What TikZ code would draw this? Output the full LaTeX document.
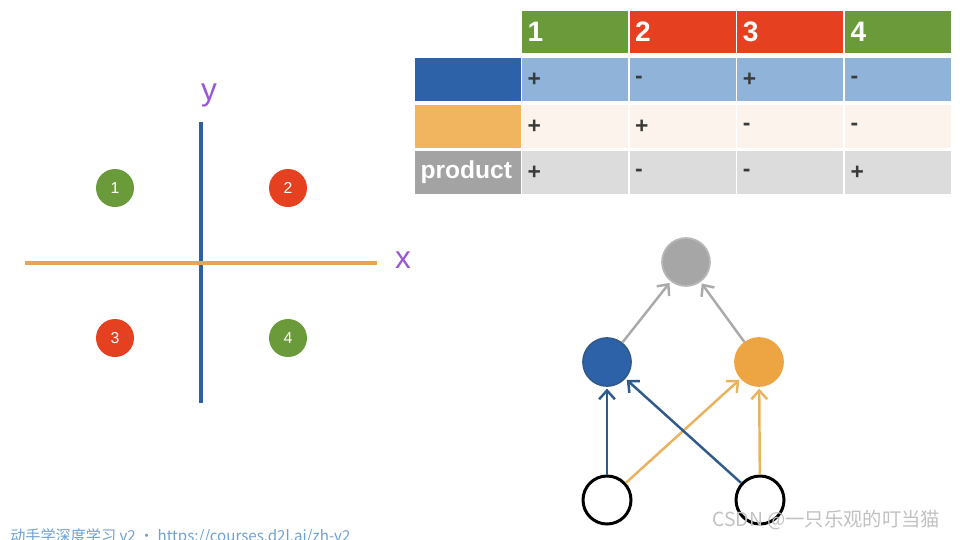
\documentclass[tikz,border=0pt]{standalone}
\usepackage{fontspec}
\setmainfont{Liberation Sans}
\newfontfamily\cjk{Noto Sans CJK SC}
\usetikzlibrary{arrows.meta}
\tikzset{>={Straight Barb[length=5pt,width=9pt]}}

\definecolor{hgreen}{HTML}{6A9A3A}
\definecolor{hred}{HTML}{E5401F}
\definecolor{rowblue}{HTML}{2E62A8}
\definecolor{roworange}{HTML}{F0B55E}
\definecolor{rowgray}{HTML}{A3A3A3}
\definecolor{cellblue}{HTML}{8FB3D9}
\definecolor{cellorange}{HTML}{FCF4EC}
\definecolor{cellgray}{HTML}{DCDCDC}
\definecolor{cellink}{HTML}{3A3A3A}
\definecolor{axisblue}{HTML}{2F5F9E}
\definecolor{axisorange}{HTML}{E8A550}
\definecolor{penpurple}{HTML}{9B55D8}
\definecolor{nodegray}{HTML}{A6A6A6}
\definecolor{nodeblue}{HTML}{2E62A8}
\definecolor{nodeorange}{HTML}{EDA443}
\definecolor{arrblue}{HTML}{2E5A8C}
\definecolor{arrorange}{HTML}{E9B25E}
\definecolor{arrgray}{HTML}{AAAAAA}
\definecolor{courseblue}{HTML}{6FA0D0}

\begin{document}
\begin{tikzpicture}[x=0.02cm, y=-0.02cm,
  tbox/.style={anchor=north west, minimum width=2.12cm, minimum height=0.86cm,
    text width=1.9cm, align=left, inner sep=0pt, outer sep=0pt},
  headbox/.style={tbox, minimum height=0.84cm, text=white, font=\bfseries\fontsize{16}{16}\selectfont},
  labbox/.style={tbox, text=white, font=\bfseries\fontsize{14}{14}\selectfont},
  cellbox/.style={tbox, text=cellink, font=\bfseries\fontsize{13}{13}\selectfont},
  quad/.style={circle, minimum size=0.76cm, inner sep=0pt, text=white, font=\fontsize{9}{9}\selectfont},
  unit/.style={circle, minimum size=0.96cm, inner sep=0pt, line width=1pt},
  link/.style={->, line width=1.4pt, shorten >=1pt}]
\useasboundingbox (0,0) rectangle (960,539);

% table
\foreach \c/\f in {1/hgreen, 2/hred, 3/hred, 4/hgreen}
  \node[headbox, fill=\f] (h\c) at ({522+(\c-1)*107.7}, 11) {\c};
\node[labbox, fill=rowblue] (lab1) at (415,58) {};
\node[labbox, fill=roworange] (lab2) at (415,105) {};
\node[labbox, fill=rowgray] (lab3) at (415,151) {product};
\foreach \r/\y/\f/\s in {1/58/cellblue/{+,-,+,-}, 2/105/cellorange/{+,+,-,-}, 3/151/cellgray/{+,-,-,+}}
  \foreach \v [count=\c] in \s
    \node[cellbox, fill=\f] (c\r\c) at ({522+(\c-1)*107.7}, \y) {\raisebox{-2pt}{\v}};

% axes
\draw[axisblue, line width=2.3pt] (201,122) -- (201,403);
\draw[axisorange, line width=2.3pt] (25,263) -- (377,263);
\node[text=penpurple, font=\fontsize{18}{18}\selectfont] (ylab) at (209,95) {y};
\node[text=penpurple, font=\fontsize{18}{18}\selectfont] (xlab) at (403,260) {x};
\node[quad, fill=hgreen] (q1) at (115,188) {1};
\node[quad, fill=hred] (q2) at (288,188) {2};
\node[quad, fill=hred] (q3) at (115,338) {3};
\node[quad, fill=hgreen] (q4) at (288,338) {4};

% network
\node[unit, fill=nodegray, draw=nodegray!80] (out) at (686,262) {};
\node[unit, fill=nodeblue, draw=arrblue] (hb) at (607,362) {};
\node[unit, fill=nodeorange, draw=nodeorange] (ho) at (759,362) {};
\node[unit, draw=black, line width=1.7pt] (in1) at (607,500) {};
\node[unit, draw=black, line width=1.7pt] (in2) at (760,500) {};
\draw[link, arrgray] (hb) -- (out);
\draw[link, arrgray] (ho) -- (out);
\draw[link, arrorange] (in1) -- (ho);
\draw[link, arrblue] (in2) -- (hb);
\draw[link, arrblue] (in1) -- (hb);
\draw[link, arrorange] (in2) -- (ho);

\node[anchor=west, inner sep=0pt, text=nodegray!70, font=\cjk\fontsize{11}{11}\selectfont] (mark) at (712,520) {CSDN @一只乐观的叮当猫};
\node[anchor=north west, inner sep=0pt, text=courseblue, font=\cjk\fontsize{8.6}{8.6}\selectfont] (course) at (10,528) {动手学深度学习 v2 • https://courses.d2l.ai/zh-v2};
\end{tikzpicture}
\end{document}
